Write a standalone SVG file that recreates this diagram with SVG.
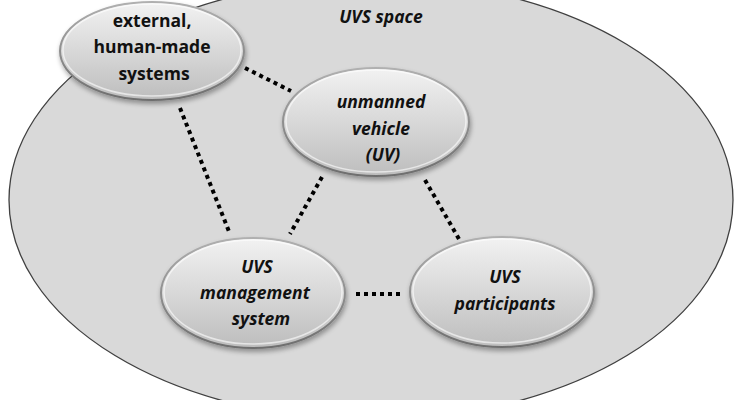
<svg xmlns="http://www.w3.org/2000/svg" width="740" height="400" viewBox="0 0 740 400">
<defs>
  <linearGradient id="nodeFill" x1="0" y1="0" x2="0" y2="1">
    <stop offset="0" stop-color="#f2f2f2"/>
    <stop offset="0.5" stop-color="#d8d8d8"/>
    <stop offset="1" stop-color="#bdbdbd"/>
  </linearGradient>
  <linearGradient id="rim" x1="0" y1="0" x2="0" y2="1">
    <stop offset="0" stop-color="#b0b0b0"/>
    <stop offset="1" stop-color="#6e6e6e"/>
  </linearGradient>
  <filter id="shadow" x="-20%" y="-20%" width="140%" height="150%">
    <feGaussianBlur in="SourceAlpha" stdDeviation="2.5"/>
    <feOffset dx="1" dy="3" result="b"/>
    <feComponentTransfer><feFuncA type="linear" slope="0.35"/></feComponentTransfer>
    <feMerge><feMergeNode/><feMergeNode in="SourceGraphic"/></feMerge>
  </filter>
</defs>
<style>
  .space { fill: #d9d9d9; stroke: #404040; stroke-width: 1.3; }
  .node { fill: url(#nodeFill); stroke: url(#rim); stroke-width: 2; filter: url(#shadow); }
  .hl { fill: none; stroke: #ffffff; stroke-opacity: 0.6; stroke-width: 1.5; }
  .lbl { font-family: "Open Sans", "Liberation Sans", sans-serif; font-size: 17.5px; font-weight: bold; fill: #111111; text-anchor: middle; }
  .it { font-style: italic; }
  .conn { stroke: #000000; stroke-width: 4; stroke-dasharray: 4 4; fill: none; }
</style>

<g id="uvs-space">
  <ellipse class="space" cx="371" cy="200" rx="362" ry="220"/>
  <text class="lbl it" x="381" y="23">UVS space</text>
</g>

<g id="connectors">
  <line class="conn" x1="245" y1="68" x2="291" y2="91"/>
  <line class="conn" x1="180" y1="108" x2="230" y2="234"/>
  <line class="conn" x1="322" y1="177" x2="290" y2="234"/>
  <line class="conn" x1="425" y1="180" x2="459" y2="239"/>
  <line class="conn" x1="356" y1="294" x2="404" y2="294"/>
</g>

<g id="external">
  <ellipse class="node" cx="152" cy="51" rx="92" ry="49"/>
  <ellipse class="hl" cx="152" cy="50" rx="89" ry="46"/>
  <text class="lbl" x="152" y="27">external,</text>
  <text class="lbl" x="152" y="53">human-made</text>
  <text class="lbl" x="154" y="80">systems</text>
</g>

<g id="uv">
  <ellipse class="node" cx="376" cy="122" rx="93" ry="54"/>
  <ellipse class="hl" cx="376" cy="121" rx="90" ry="51"/>
  <text class="lbl it" x="381" y="108">unmanned</text>
  <text class="lbl it" x="381" y="135">vehicle</text>
  <text class="lbl it" x="383" y="161">(UV)</text>
</g>

<g id="management">
  <ellipse class="node" cx="253" cy="293" rx="92" ry="55"/>
  <ellipse class="hl" cx="253" cy="292" rx="89" ry="52"/>
  <text class="lbl it" x="257" y="273">UVS</text>
  <text class="lbl it" x="255" y="299">management</text>
  <text class="lbl it" x="261" y="325">system</text>
</g>

<g id="participants">
  <ellipse class="node" cx="502" cy="292" rx="92" ry="55"/>
  <ellipse class="hl" cx="502" cy="291" rx="89" ry="52"/>
  <text class="lbl it" x="505" y="283">UVS</text>
  <text class="lbl it" x="505" y="310">participants</text>
</g>
</svg>
